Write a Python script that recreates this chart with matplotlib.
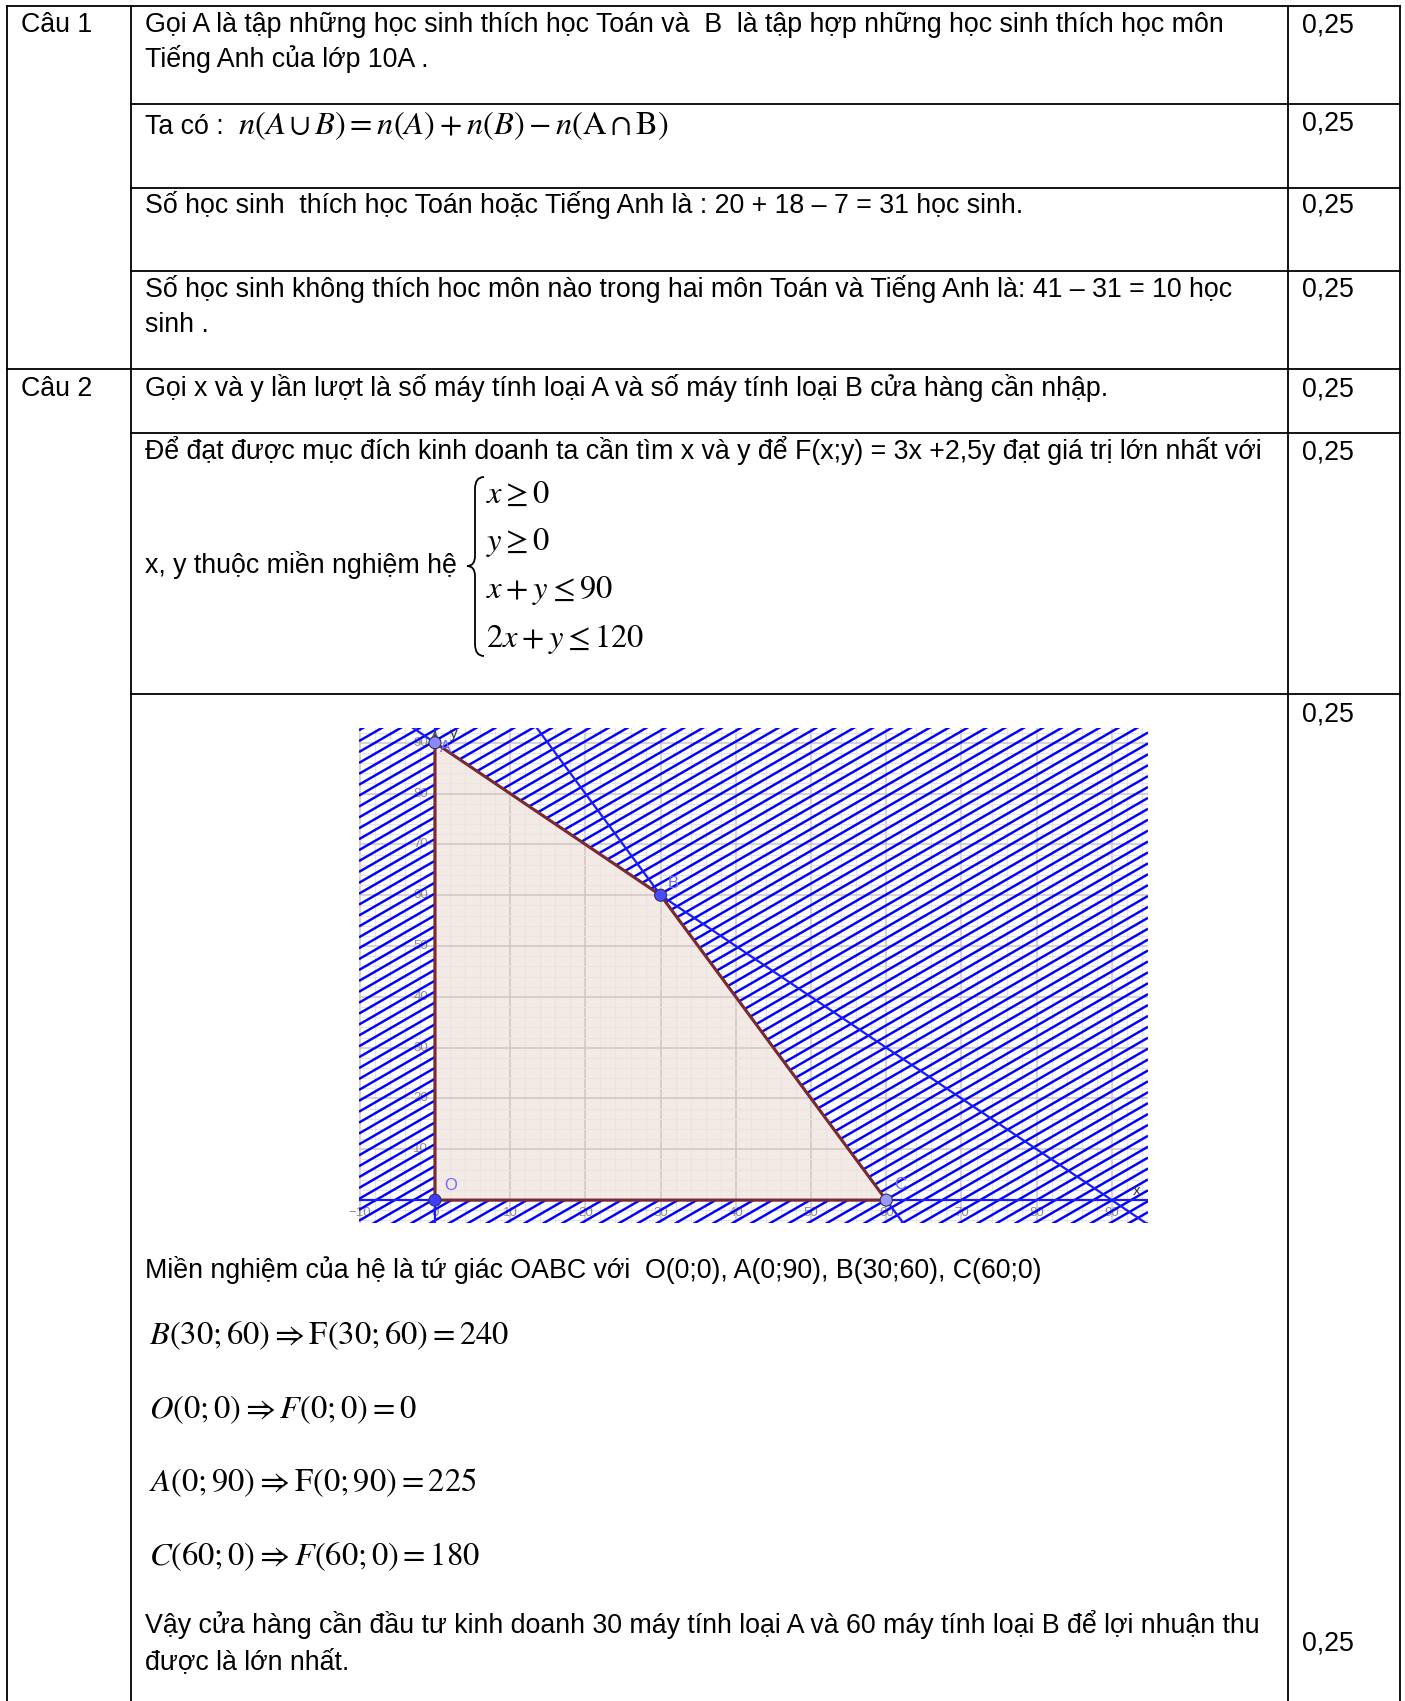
import numpy as np
import matplotlib.pyplot as plt
from matplotlib.path import Path
from matplotlib.patches import PathPatch, Polygon
from matplotlib.collections import LineCollection

plt.rcParams['font.family'] = ['Liberation Sans', 'DejaVu Sans']
plt.rcParams['mathtext.fontset'] = 'stix'

# ---- data -------------------------------------------------------------
vertex_names = ['O', 'A', 'B', 'C']
vertex_x = [0, 0, 30, 60]
vertex_y = [0, 90, 60, 0]
vertex_colors = ['#3d3dff', '#8a8aff', '#4a4aff', '#9a9aff']
# constraint lines a*x + b*y = c
constraints = [(1, 1, 90), (2, 1, 120)]
x_ticks = [-10, 0, 10, 20, 30, 40, 50, 60, 70, 80, 90]
y_ticks = [10, 20, 30, 40, 50, 60, 70, 80, 90]

question_labels = ['Câu 1', 'Câu 2']
score_label = '0,25'

body_lines = [
    'Gọi A là tập những học sinh thích học Toán và  B  là tập hợp những học sinh thích học môn',
    'Tiếng Anh của lớp 10A .',
    'Ta có : ',
    'Số học sinh  thích học Toán hoặc Tiếng Anh là : 20 + 18 – 7 = 31 học sinh.',
    'Số học sinh không thích hoc môn nào trong hai môn Toán và Tiếng Anh là: 41 – 31 = 10 học',
    'sinh .',
    'Gọi x và y lần lượt là số máy tính loại A và số máy tính loại B cửa hàng cần nhập.',
    'Để đạt được mục đích kinh doanh ta cần tìm x và y để F(x;y) = 3x +2,5y đạt giá trị lớn nhất với',
    'x, y thuộc miền nghiệm hệ',
    'Miền nghiệm của hệ là tứ giác OABC với  O(0;0), A(0;90), B(30;60), C(60;0)',
    'Vậy cửa hàng cần đầu tư kinh doanh 30 máy tính loại A và 60 máy tính loại B để lợi nhuận thu',
    'được là lớn nhất.',
]
set_formula = r'$n(A\cup B)=n(A)+n(B)-n(\mathrm{A}\cap\mathrm{B})$'
system_lines = [r'$x\geq 0$', r'$y\geq 0$', r'$x+y\leq 90$', r'$2x+y\leq 120$']
value_lines = [
    r'$B(30;60)\Rightarrow \mathrm{F}(30;60)=240$',
    r'$O(0;0)\Rightarrow F(0;0)=0$',
    r'$A(0;90)\Rightarrow \mathrm{F}(0;90)=225$',
    r'$C(60;0)\Rightarrow F(60;0)=180$',
]

# ---- page -------------------------------------------------------------
W, H = 1405, 1701
fig = plt.figure(figsize=(W / 100, H / 100), dpi=100)
page = fig.add_axes([0, 0, 1, 1])
page.set_xlim(0, W)
page.set_ylim(H, 0)
page.axis('off')

x0, x1, x2, x3 = 7, 131, 1288, 1400
lw = 1.3
for x in (x0, x1, x2, x3):
    page.plot([x, x], [6, H], color='black', lw=lw)
page.plot([x0, x3], [6, 6], color='black', lw=lw)
page.plot([x0, x3], [369, 369], color='black', lw=lw)
for y in (104, 188, 271, 433, 694):
    page.plot([x1, x3], [y, y], color='black', lw=lw)

fs = 19.25
tx = 145
body_y = [32, 67, 134, 213, 297, 332, 396, 459, 573, 1278, 1633, 1669]
for s, y in zip(body_lines, body_y):
    page.text(tx, y, s, fontsize=fs, va='baseline', ha='left')
for s, y in zip(question_labels, [32, 396]):
    page.text(21, y, s, fontsize=fs, va='baseline')
for y in [32, 130, 213, 297, 396, 459, 721, 1650]:
    page.text(1302, y, score_label, fontsize=fs, va='baseline')

mfs = 23.4
page.text(238, 134, set_formula, fontsize=mfs, va='baseline')
for s, y in zip(system_lines, [503, 550, 598, 647]):
    page.text(486, y, s, fontsize=mfs, va='baseline')
for s, y in zip(value_lines, [1344, 1418, 1491, 1565]):
    page.text(149, y, s, fontsize=mfs, va='baseline')

# brace of the system
xr, xm, xt = 484, 475, 467
yt, ym, yb = 477, 566, 656
brace = Path(
    [(xr, yt), (xm, yt), (xm, yt + 12), (xm, ym - 10), (xm, ym), (xt, ym),
     (xm, ym), (xm, ym + 10), (xm, yb - 12), (xm, yb), (xr, yb)],
    [Path.MOVETO, Path.CURVE3, Path.CURVE3, Path.LINETO, Path.CURVE3, Path.CURVE3,
     Path.CURVE3, Path.CURVE3, Path.LINETO, Path.CURVE3, Path.CURVE3])
page.add_patch(PathPatch(brace, facecolor='none', edgecolor='black', lw=1.3))

# ---- embedded graph ---------------------------------------------------
L, T, R, Bt = 359, 728, 1148, 1223
ch = fig.add_axes([L / W, 1 - Bt / H, (R - L) / W, (Bt - T) / H])
xmin, xmax, ymin, ymax = -10.1, 94.8, -4.5, 92.9
ch.set_xlim(xmin, xmax)
ch.set_ylim(ymin, ymax)
ch.axis('off')

# hatch of the rejected region
k = np.tan(np.radians(30)) * (R - L) / (Bt - T)
step = 10.9 / (Bt - T)
offs = np.arange(-k - step, 1 + step, step)
segs = [[(0, c), (1, c + k)] for c in offs]
ch.add_collection(LineCollection(segs, colors='#0000ff', linewidths=1.75,
                                 transform=ch.transAxes, zorder=2))

region = Polygon(list(zip(vertex_x, vertex_y)), closed=True,
                 facecolor='#f3e9e5', edgecolor='none', zorder=3)
ch.add_patch(region)

for v in np.arange(-10, 96, 2):
    major = v % 10 == 0
    for z, clip in ((1, None), (4, region)):
        ln = ch.axvline(v, color='#cfc5c5' if major else '#ebe3e3',
                        lw=1.1 if major else 0.8, zorder=z)
        if clip is not None:
            ln.set_clip_path(clip)
for v in np.arange(-4, 94, 2):
    major = v % 10 == 0
    for z, clip in ((1, None), (4, region)):
        ln = ch.axhline(v, color='#cfc5c5' if major else '#ebe3e3',
                        lw=1.1 if major else 0.8, zorder=z)
        if clip is not None:
            ln.set_clip_path(clip)

tick_kw = dict(color='#8f8a8a', fontsize=9.5, zorder=1)
for v in x_ticks:
    ch.text(v, -2.6, '−10' if v < 0 else str(v), ha='center', va='center', **tick_kw)
for v in y_ticks:
    ch.text(-0.9, v, str(v), ha='right', va='center', **tick_kw)

xs = np.array([xmin, xmax])
for a, b, c in constraints:
    ch.plot(xs, (c - a * xs) / b, color='#1a1aff', lw=1.6, zorder=5)
ch.axhline(0, color='#1a1aff', lw=1.6, zorder=5)
ch.axvline(0, color='#1a1aff', lw=1.6, zorder=5)

ch.plot(vertex_x + vertex_x[:1], vertex_y + vertex_y[:1], color='#7b2b2b', lw=2.2, zorder=6)

ch.annotate('', xy=(0, ymax), xytext=(0, ymax - 2.5),
            arrowprops=dict(arrowstyle='->', color='#555555', lw=1), zorder=6)
ch.text(2.0, ymax + 0.2, 'y', fontsize=11, color='#333333', va='top', zorder=7)
ch.text(xmax - 1.0, 1.0, 'x', fontsize=11, color='#333333', ha='right', zorder=7)

ch.scatter(vertex_x, vertex_y, s=75, c=vertex_colors, edgecolors='#333355',
           linewidths=0.8, zorder=8, clip_on=False)
label_off = {'O': (1.3, 2.8), 'A': (0.6, -1.0), 'B': (0.9, 2.4), 'C': (1.1, 3.0)}
for n, x, y in zip(vertex_names, vertex_x, vertex_y):
    dx, dy = label_off[n]
    ch.text(x + dx, y + dy, n, fontsize=12, color='#6b6bff', va='center', zorder=9)

fig.savefig('out.png', dpi=100)
